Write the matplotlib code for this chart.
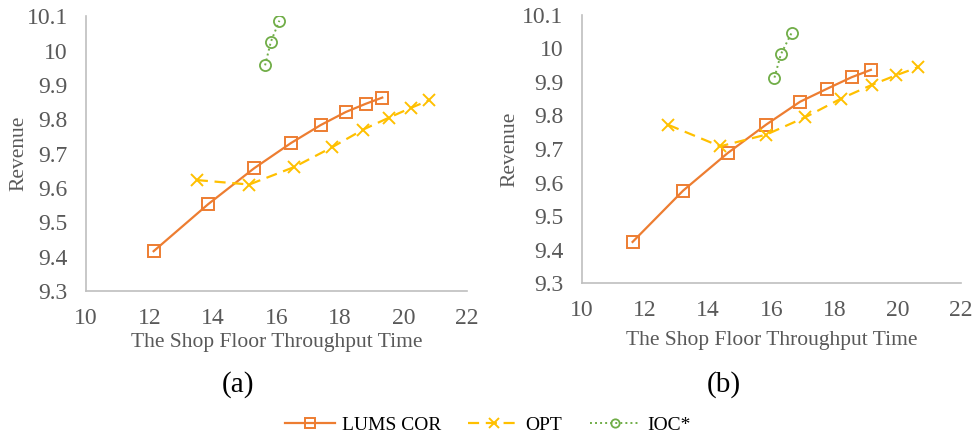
import matplotlib.pyplot as plt

plt.rcParams['font.family'] = ['Liberation Serif', 'DejaVu Serif']

# panel (a)
lums_x_a = [12.13, 13.85, 15.29, 16.46, 17.39, 18.18, 18.81, 19.33]
lums_y_a = [9.416, 9.553, 9.657, 9.731, 9.783, 9.821, 9.845, 9.863]
opt_x_a = [13.49, 15.14, 16.56, 17.74, 18.73, 19.55, 20.23, 20.80]
opt_y_a = [9.623, 9.610, 9.661, 9.718, 9.770, 9.805, 9.833, 9.855]
ioc_x_a = [15.64, 15.82, 16.09]
ioc_y_a = [9.957, 10.025, 10.087]

# panel (b)
lums_x_b = [11.61, 13.21, 14.62, 15.84, 16.91, 17.77, 18.54, 19.15]
lums_y_b = [9.423, 9.576, 9.688, 9.773, 9.841, 9.880, 9.914, 9.936]
opt_x_b = [12.74, 14.38, 15.84, 17.08, 18.20, 19.20, 19.95, 20.65]
opt_y_b = [9.772, 9.708, 9.743, 9.795, 9.850, 9.892, 9.920, 9.944]
ioc_x_b = [16.10, 16.30, 16.64]
ioc_y_b = [9.913, 9.982, 10.046]

x_ticks = [10, 12, 14, 16, 18, 20, 22]
y_ticks = [9.3, 9.4, 9.5, 9.6, 9.7, 9.8, 9.9, 10.0, 10.1]
y_tick_labels = ['9.3', '9.4', '9.5', '9.6', '9.7', '9.8', '9.9', '10', '10.1']

orange = '#ED7D31'
yellow = '#FFC000'
green = '#70AD47'
grey = '#595959'

fig = plt.figure(figsize=(9.75, 4.37), dpi=100)
ax_a = fig.add_axes([0.0882, 0.334, 0.3908, 0.629])
ax_b = fig.add_axes([0.5966, 0.352, 0.389, 0.614])

panels = [
    (ax_a, lums_x_a, lums_y_a, opt_x_a, opt_y_a, ioc_x_a, ioc_y_a, -0.152, -0.154),
    (ax_b, lums_x_b, lums_y_b, opt_x_b, opt_y_b, ioc_x_b, ioc_y_b, -0.163, -0.178),
]

for ax, lx, ly, ox, oy, ix, iy, ylab_x, xlab_y in panels:
    ax.plot(lx, ly, color=orange, lw=1.6, marker='s', ms=9, mfc='none',
            mec=orange, mew=1.4, label='LUMS COR')
    ax.plot(ox, oy, color=yellow, lw=1.6, ls=(0, (5, 3)), marker='x', ms=9,
            mec=yellow, mew=1.4, label='OPT')
    ax.plot(ix, iy, color=green, lw=1.4, ls=(0, (1, 1.6)), marker='o', ms=8,
            mfc='none', mec=green, mew=1.3, label='IOC*')

    ax.set_xlim(10, 22)
    ax.set_ylim(9.3, 10.1)
    ax.set_xticks(x_ticks)
    ax.set_yticks(y_ticks)
    ax.set_yticklabels(y_tick_labels)
    ax.tick_params(length=0, labelsize=17, labelcolor=grey)
    ax.tick_params(axis='x', pad=12)
    ax.tick_params(axis='y', pad=13)
    for s in ['top', 'right']:
        ax.spines[s].set_visible(False)
    for s in ['left', 'bottom']:
        ax.spines[s].set_color('#BFBFBF')
        ax.spines[s].set_linewidth(1.2)
    ax.set_ylabel('Revenue', fontsize=15.5, color=grey)
    ax.set_xlabel('The Shop Floor Throughput Time', fontsize=15.5, color=grey)
    ax.yaxis.set_label_coords(ylab_x, 0.5)
    ax.xaxis.set_label_coords(0.5, xlab_y)
    ax.patch.set_alpha(0)

fig.text(0.244, 0.119, '(a)', fontsize=21, ha='center', va='center')
fig.text(0.742, 0.119, '(b)', fontsize=21, ha='center', va='center')

handles, labels = ax_a.get_legend_handles_labels()
fig.legend(handles, labels, loc='center', bbox_to_anchor=(0.5, 0.028), ncol=3,
           frameon=False, fontsize=14, handlelength=2.6, columnspacing=1.4,
           handletextpad=0.35, numpoints=1, markerscale=0.75)

fig.savefig('out.png', dpi=100)
